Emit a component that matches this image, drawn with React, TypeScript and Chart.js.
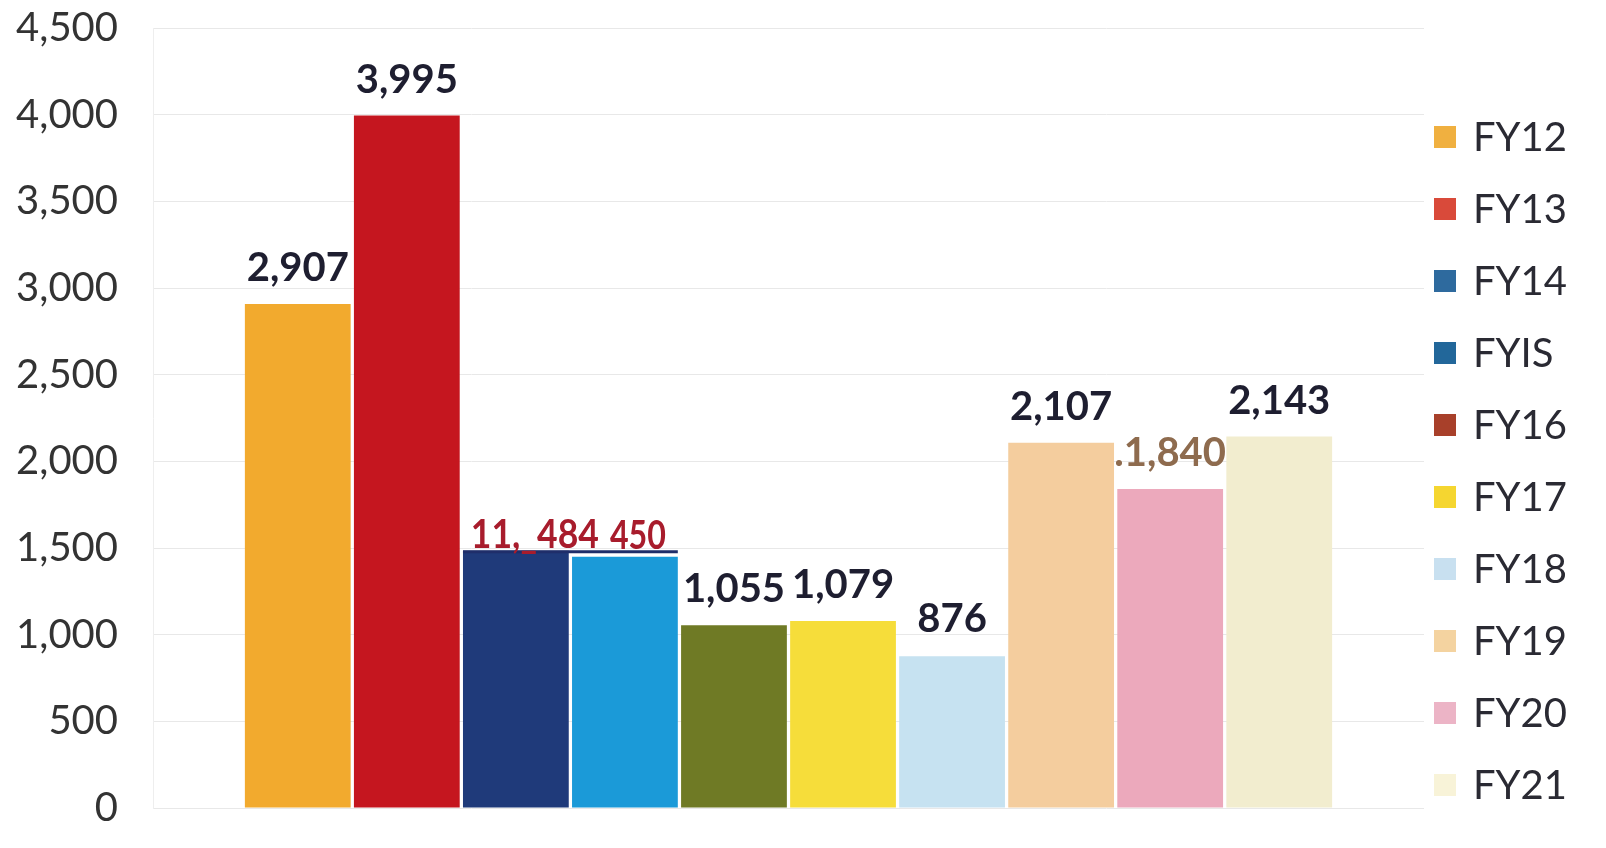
import React, { useEffect, useRef } from "react";
import { Chart, registerables } from "chart.js";

Chart.register(...registerables);

const seriesNames = ["FY12", "FY13", "FY14", "FY15", "FY16", "FY17", "FY18", "FY19", "FY20", "FY21"];
const legendLabels = ["FY12", "FY13", "FY14", "FYIS", "FY16", "FY17", "FY18", "FY19", "FY20", "FY21"];
const values = [2907, 3995, 1484, 1450, 1055, 1079, 876, 2107, 1840, 2143];
const valueLabels = ["2,907", "3,995", "11,_484", "450", "1,055", "1,079", "876", "2,107", ".1,840", "2,143"];
const labelColors = ["#1E1E30", "#1E1E30", "#A81C2C", "#A81C2C", "#1E1E30", "#1E1E30", "#1E1E30", "#1E1E30", "#8E6B4E", "#1E1E30"];
// style tweaks for label placement (pixels)
const labelShiftX = [0, 0, 19, 13, 0, 0, 0, 0, 0, 0];
const labelLiftY = [23, 23, 3, 8, 23, 23, 24, 23, 23, 23];
const labelMaxWidth = [0, 0, 128, 56, 0, 0, 0, 0, 0, 0];
const barColors = ["#F2AA2E", "#C5161F", "#1F3A7A", "#1B9AD8", "#6F7A25", "#F6DD3A", "#C6E2F1", "#F4CD9E", "#ECA9BC", "#F2EDCF"];
const legendColors = ["#F0B040", "#D94A3A", "#2E6A9E", "#22679A", "#A8402A", "#F5D630", "#C8E0F0", "#F4D3A0", "#ECB4C6", "#F8F3D8"];
const yTicksMax = 4500;
const yTickStep = 500;

const FONT = "Lato, 'Open Sans', sans-serif";

export default function App() {
  const ref = useRef<HTMLCanvasElement | null>(null);

  useEffect(() => {
    if (!ref.current) return;

    const labelPlugin = {
      id: "valueLabels",
      afterDatasetsDraw(chart: any) {
        const ctx = chart.ctx;
        ctx.save();
        // thin navy rule across the tops of FY14/FY15 as in the scan
        const m14 = chart.getDatasetMeta(2).data[0];
        const m15 = chart.getDatasetMeta(3).data[0];
        if (m14 && m15) {
          ctx.strokeStyle = "#1F2E6A";
          ctx.lineWidth = 3;
          ctx.beginPath();
          ctx.moveTo(m14.x - m14.width / 2, m14.y + 1);
          ctx.lineTo(m15.x + m15.width / 2, m14.y + 1);
          ctx.stroke();
        }
        ctx.font = `bold 40px ${FONT}`;
        ctx.textAlign = "center";
        ctx.textBaseline = "alphabetic";
        chart.data.datasets.forEach((_: any, i: number) => {
          const meta = chart.getDatasetMeta(i);
          const el = meta.data[0];
          if (!el) return;
          ctx.fillStyle = labelColors[i];
          const x = el.x + labelShiftX[i];
          const y = el.y - labelLiftY[i];
          if (labelMaxWidth[i] > 0) {
            ctx.fillText(valueLabels[i], x, y, labelMaxWidth[i]);
          } else {
            ctx.fillText(valueLabels[i], x, y);
          }
        });
        ctx.restore();
      },
    };

    const legendPlugin = {
      id: "sideLegend",
      afterDraw(chart: any) {
        const ctx = chart.ctx;
        const area = chart.chartArea;
        ctx.save();
        ctx.font = `40px ${FONT}`;
        ctx.textAlign = "left";
        ctx.textBaseline = "middle";
        const boxX = area.right + 10;
        const startY = 137;
        const pitch = 72;
        legendLabels.forEach((lab, i) => {
          const cy = startY + i * pitch;
          ctx.fillStyle = legendColors[i];
          ctx.fillRect(boxX, cy - 11, 22, 22);
          ctx.fillStyle = "#2A2A33";
          ctx.fillText(lab, boxX + 39, cy + 1);
        });
        ctx.restore();
      },
    };

    const chart = new Chart(ref.current, {
      type: "bar",
      data: {
        labels: [""],
        datasets: seriesNames.map((name, i) => ({
          label: name,
          data: [values[i]],
          backgroundColor: barColors[i],
          borderWidth: 0,
          categoryPercentage: 0.858,
          barPercentage: 0.97,
        })),
      },
      options: {
        responsive: false,
        animation: false,
        devicePixelRatio: 1,
        layout: { padding: { left: 8, top: 28, bottom: 40, right: 182 } },
        plugins: {
          legend: { display: false },
          tooltip: { enabled: false },
        },
        scales: {
          x: { display: false },
          y: {
            min: 0,
            max: yTicksMax,
            ticks: {
              stepSize: yTickStep,
              padding: 0,
              color: "#333333",
              font: { family: FONT, size: 40 },
              callback: (v: any) => Number(v).toLocaleString("en-US"),
            },
            grid: {
              color: "#E8E8E8",
              drawTicks: true,
              tickLength: 35,
              tickColor: "rgba(0,0,0,0)",
              lineWidth: 1,
            },
            border: { color: "#EEEEEE" },
            afterFit: (s: any) => {
              s.width = 145;
            },
          },
        },
      },
      plugins: [labelPlugin, legendPlugin],
    });

    return () => chart.destroy();
  }, []);

  return (
    <div style={{ position: "absolute", left: 0, top: 0, width: 1606, height: 848, background: "#FFFFFF" }}>
      <canvas ref={ref} width={1606} height={848} style={{ width: 1606, height: 848, display: "block" }} />
    </div>
  );
}
